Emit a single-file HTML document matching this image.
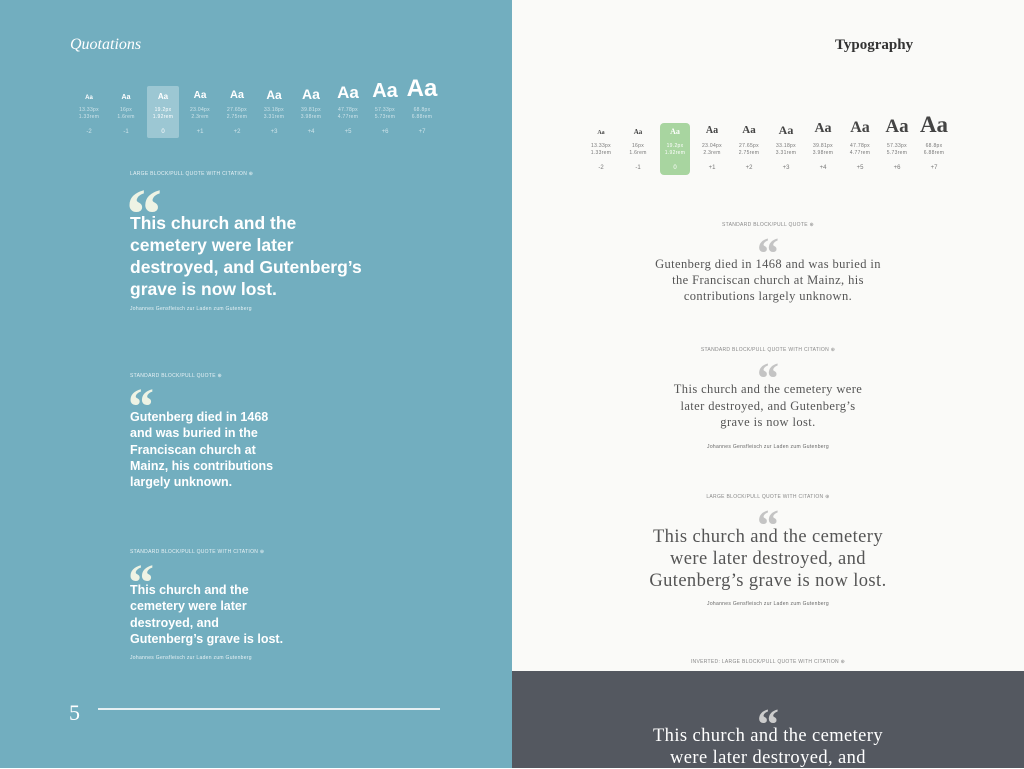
<!DOCTYPE html>
<html><head><meta charset="utf-8"><style>
*{margin:0;padding:0;box-sizing:border-box}
body{width:1024px;height:768px;overflow:hidden;position:relative;font-family:"Liberation Sans",sans-serif}
.abs{position:absolute}
#left{left:0;top:0;width:512px;height:768px;background:#72aebf}
#right{left:512px;top:0;width:512px;height:768px;background:#fafaf8}
#dark{left:512px;top:671px;width:512px;height:97px;background:#545860}
.col{position:absolute;width:34px;text-align:center;transform:translateX(-50%)}
.lab{font-size:5px;letter-spacing:.3px}
.qs{font-family:"Liberation Serif",serif;font-weight:bold}
.qm{font-family:"Liberation Serif",serif;font-weight:bold}
.sq{font-family:"Liberation Serif",serif;letter-spacing:.4px}
</style></head><body>
<div id="left" class="abs"></div>
<div id="right" class="abs"></div>
<div id="dark" class="abs"></div>

<div class="abs" style="left:70px;top:36px;font-family:'Liberation Serif',serif;font-style:italic;font-size:16px;color:#fff">Quotations</div>
<div class="abs" style="left:835px;top:37px;font-family:'Liberation Serif',serif;font-weight:bold;font-size:15px;color:#333">Typography</div>

<div class="abs" style="left:147px;top:86px;width:32px;height:52px;background:#9cc7d3;border-radius:2px"></div>
<div class="abs" style="left:660px;top:123px;width:30px;height:52px;background:#a8d5a0;border-radius:4px"></div>
<div id="scales"></div>

<div class="abs lab" style="left:130px;top:171px;color:#e8f2f5">LARGE BLOCK/PULL QUOTE WITH CITATION ⊕</div>
<div class="abs qm" style="left:126px;top:178px;font-size:72px;color:#eef3e4;line-height:72px">“</div>
<div class="abs" style="left:130px;top:212px;width:300px;font-size:17.5px;font-weight:bold;color:#fff;line-height:22px">This church and the<br>cemetery were later<br>destroyed, and Gutenberg’s<br>grave is now lost.</div>
<div class="abs lab" style="left:130px;top:306px;color:#e8f2f5">Johannes Gensfleisch zur Laden zum Gutenberg</div>

<div class="abs lab" style="left:130px;top:373px;color:#e8f2f5">STANDARD BLOCK/PULL QUOTE ⊕</div>
<div class="abs qm" style="left:128px;top:382px;font-size:52px;color:#eef3e4;line-height:52px">“</div>
<div class="abs" style="left:130px;top:409px;width:200px;font-size:12.5px;font-weight:bold;color:#fff;line-height:16.3px">Gutenberg died in 1468<br>and was buried in the<br>Franciscan church at<br>Mainz, his contributions<br>largely unknown.</div>

<div class="abs lab" style="left:130px;top:549px;color:#e8f2f5">STANDARD BLOCK/PULL QUOTE WITH CITATION ⊕</div>
<div class="abs qm" style="left:128px;top:558px;font-size:52px;color:#eef3e4;line-height:52px">“</div>
<div class="abs" style="left:130px;top:582px;width:200px;font-size:12.5px;font-weight:bold;color:#fff;line-height:16.3px">This church and the<br>cemetery were later<br>destroyed, and<br>Gutenberg’s grave is lost.</div>
<div class="abs lab" style="left:130px;top:655px;color:#e8f2f5">Johannes Gensfleisch zur Laden zum Gutenberg</div>

<div class="abs" style="left:69px;top:700px;font-family:'Liberation Serif',serif;font-size:22px;color:#fff">5</div>
<div class="abs" style="left:98px;top:708px;width:342px;height:2px;background:#e6f0f3"></div>

<div class="abs lab" style="left:512px;width:512px;top:222px;text-align:center;color:#888">STANDARD BLOCK/PULL QUOTE ⊕</div>
<div class="abs qm" style="left:512px;width:512px;top:232px;text-align:center;font-size:44px;color:#c4c4c4;line-height:44px">“</div>
<div class="abs sq" style="left:512px;width:512px;top:256px;text-align:center;font-size:12.5px;color:#555;line-height:16px">Gutenberg died in 1468 and was buried in<br>the Franciscan church at Mainz, his<br>contributions largely unknown.</div>

<div class="abs lab" style="left:512px;width:512px;top:347px;text-align:center;color:#888">STANDARD BLOCK/PULL QUOTE WITH CITATION ⊕</div>
<div class="abs qm" style="left:512px;width:512px;top:357px;text-align:center;font-size:44px;color:#c4c4c4;line-height:44px">“</div>
<div class="abs sq" style="left:512px;width:512px;top:381px;text-align:center;font-size:12.5px;color:#555;line-height:16.5px">This church and the cemetery were<br>later destroyed, and Gutenberg’s<br>grave is now lost.</div>
<div class="abs lab" style="left:512px;width:512px;top:444px;text-align:center;color:#666">Johannes Gensfleisch zur Laden zum Gutenberg</div>

<div class="abs lab" style="left:512px;width:512px;top:494px;text-align:center;color:#888">LARGE BLOCK/PULL QUOTE WITH CITATION ⊕</div>
<div class="abs qm" style="left:512px;width:512px;top:504px;text-align:center;font-size:44px;color:#c4c4c4;line-height:44px">“</div>
<div class="abs sq" style="left:512px;width:512px;top:526px;text-align:center;font-size:18.5px;color:#555;line-height:22px">This church and the cemetery<br>were later destroyed, and<br>Gutenberg’s grave is now lost.</div>
<div class="abs lab" style="left:512px;width:512px;top:601px;text-align:center;color:#666">Johannes Gensfleisch zur Laden zum Gutenberg</div>

<div class="abs lab" style="left:512px;width:512px;top:659px;text-align:center;color:#888">INVERTED: LARGE BLOCK/PULL QUOTE WITH CITATION ⊕</div>
<div class="abs qm" style="left:512px;width:512px;top:703px;text-align:center;font-size:44px;color:#ccc;line-height:44px">“</div>
<div class="abs sq" style="left:512px;width:512px;top:725px;text-align:center;font-size:18.5px;color:#fff;line-height:22px">This church and the cemetery<br>were later destroyed, and</div>

<script>
const steps=["-2","-1","0","+1","+2","+3","+4","+5","+6","+7"];
const pxSizes=["13.33px","16px","19.2px","23.04px","27.65px","33.18px","39.81px","47.78px","57.33px","68.8px"];
const remSizes=["1.33rem","1.6rem","1.92rem","2.3rem","2.75rem","3.31rem","3.98rem","4.77rem","5.73rem","6.88rem"];
const leftAa=[6,7,8,10,11,12,14,17,20,24];
const rightAa=[6,7,8,10,11,12,14,16,19,23];
const S=document.getElementById('scales');
function build(x0,dx,aaBase,labY,idxY,sizes,color,sub,serif,hiColor){
  steps.forEach((s,i)=>{
    const x=x0+i*dx;
    const a=document.createElement('div');a.className='col'+(serif?' qs':'');
    
    
    a.style.cssText=`left:${x}px;top:${aaBase-sizes[i]}px;font-size:${sizes[i]}px;line-height:${sizes[i]}px;color:${i==2?hiColor:color};font-weight:bold;width:60px`;
    a.textContent='Aa';S.appendChild(a);
    const l=document.createElement('div');l.className='col lab';
    
    
    l.style.cssText=`left:${x}px;top:${labY}px;color:${i==2?hiColor:sub};line-height:7px;width:36px`;
    l.innerHTML=pxSizes[i]+'<br>'+remSizes[i];S.appendChild(l);
    const n=document.createElement('div');n.className='col';
    
    
    n.style.cssText=`left:${x}px;top:${idxY}px;font-size:6px;color:${i==2?hiColor:sub}`;
    n.textContent=s;S.appendChild(n);
  });
}
build(89,37,101,107,129,leftAa,'#fff','#cfe4ea',false,'#fff');
build(601,37,136,143,165,rightAa,'#444','#777',true,'#fff');
</script>
</body></html>
